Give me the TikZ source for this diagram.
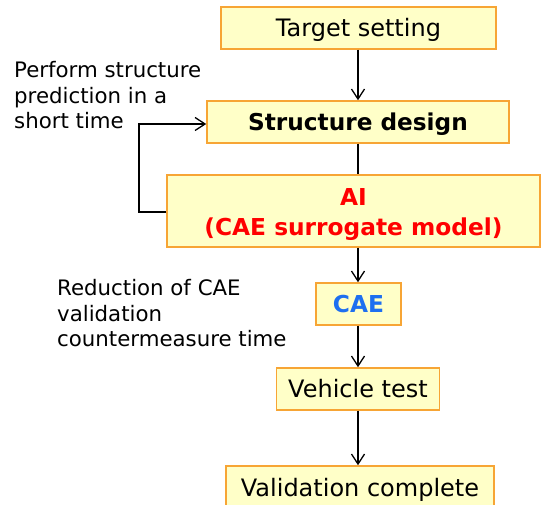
\documentclass[tikz,border=0pt]{standalone}
\usepackage{fontspec}
\setmainfont{DejaVu Sans}
\usetikzlibrary{arrows.meta}
\definecolor{boxfill}{HTML}{FFFFC8}
\definecolor{boxline}{HTML}{F7A535}
\definecolor{aired}{HTML}{FF0000}
\definecolor{caeblue}{HTML}{1E6FF0}
\begin{document}
\begin{tikzpicture}[x=1pt,y=-1pt,
  boxbase/.style={draw=boxline, fill=boxfill, line width=1.5pt, inner sep=0pt, anchor=center, font=\fontsize{24}{28}\selectfont},
  box/.style={boxbase, text height=17.5pt, text depth=0pt},
  arr/.style={-{Straight Barb[length=10pt,width=13pt]}, line width=1.3pt, black},
  note/.style={anchor=north west, align=left, inner sep=0pt, font=\fontsize{21.3}{25.8}\selectfont}]
\useasboundingbox (0,0) rectangle (542,505);
\node[box, minimum width=275pt, minimum height=42pt] (target) at (358.5,28) {Target setting};
\node[box, minimum width=302pt, minimum height=42pt, font=\fontsize{23.2}{28}\selectfont\bfseries] (struct) at (358,122) {Structure design};
\node[boxbase, minimum width=373pt, minimum height=72pt, align=center, text=aired, font=\fontsize{23.3}{30}\selectfont\bfseries] (ai) at (353.5,211) {\rule{0pt}{25pt}AI\\(CAE surrogate model)};
\node[box, minimum width=85pt, minimum height=42pt, text=caeblue, font=\fontsize{23.3}{28}\selectfont\bfseries] (cae) at (358.5,304) {CAE};
\node[box, minimum width=163pt, minimum height=42pt] (vehicle) at (358,389) {Vehicle test};
\node[box, minimum width=268pt, minimum height=44pt] (valid) at (360,488) {Validation complete};
\node[note] (n1) at (14,61) {Perform structure\\prediction in a\\short time};
\node[note] (n2) at (57,279) {Reduction of CAE\\validation\\countermeasure time};
\coordinate (c1) at (139,212);
\coordinate (c2) at (139,124);
\draw[arr] (target.south -| 358,0) -- (struct.north -| 358,0);
\draw[line width=1.3pt] (struct.south -| 358,0) -- (ai.north -| 358,0);
\draw[arr] (ai.south -| 358,0) -- (cae.north -| 358,0);
\draw[arr] (cae.south -| 358,0) -- (vehicle.north -| 358,0);
\draw[arr] (vehicle.south -| 358,0) -- (valid.north -| 358,0);
\draw[arr] (ai.west |- c1) -- (c1) -- (c2) -- (struct.west |- c2);
\end{tikzpicture}
\end{document}
